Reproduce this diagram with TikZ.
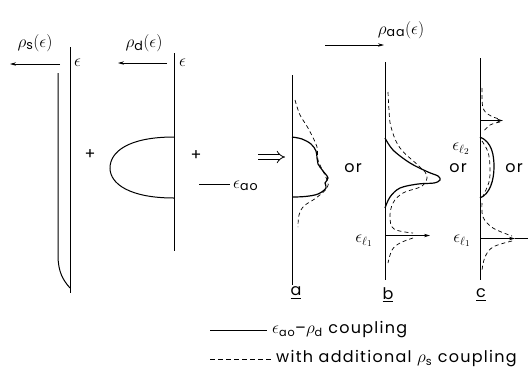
\documentclass[tikz,border=0pt]{standalone}
\usepackage{amsmath}
\usepackage{fontspec}
\setmainfont{Poppins}[LetterSpace=8]
\usetikzlibrary{arrows.meta}
\tikzset{
  axisline/.style={line width=0.95pt},
  solidc/.style={line width=1.2pt},
  dashc/.style={line width=0.7pt, dash pattern=on 4pt off 3pt},
  arr/.style={line width=0.7pt, -{Stealth[length=6pt,width=3.4pt]}},
  lbl/.style={inner sep=0pt},
  mlbl/.style={inner sep=0pt, font=\fontsize{18}{21}\selectfont},
}
\begin{document}
\begin{tikzpicture}[x=1pt,y=-1pt,font=\fontsize{16}{19}\selectfont]
\useasboundingbox (0,0) rectangle (530,376);

% ---------- panel s ----------
\coordinate (sTop) at (70,47);
\coordinate (sBot) at (70,293);
\draw[axisline] (sTop) -- (sBot);
\node[mlbl,anchor=west] (epsS) at (74,63) {$\epsilon$};
\node[mlbl] (rhoS) at (35,43) {$\rho_{\text{s}}(\epsilon)$};
\coordinate (sArrA) at (60,64);
\coordinate (sArrB) at (10,64);
\draw[arr] (sArrA) -- (sArrB);
\draw[line width=1pt] (58,73) -- (58,255) .. controls (58,272) and (63,280) .. (70,288);

% ---------- panel d ----------
\coordinate (dTop) at (174,53);
\coordinate (dBot) at (174,251);
\draw[axisline] (dTop) -- (dBot);
\node[mlbl,anchor=west] (epsD) at (179,63) {$\epsilon$};
\node[mlbl] (rhoD) at (144,43) {$\rho_{\text{d}}(\epsilon)$};
\coordinate (dArrA) at (167,63);
\coordinate (dArrB) at (118,63);
\draw[arr] (dArrA) -- (dArrB);
\draw[line width=1pt] (174,137) .. controls (128,137) and (110,152) .. (110,168)
   .. controls (110,184) and (130,198) .. (174,198);

\node[lbl] (plus1) at (90,155) {+};
\node[lbl] (plus2) at (196,156) {+};

% eps_ao level
\coordinate (aoA) at (199,184);
\coordinate (aoB) at (230,184);
\draw[line width=0.7pt] (aoA) -- (aoB);
\node[mlbl,anchor=west] (epsAO) at (233,186) {$\epsilon_{\text{ao}}$};

% double arrow
\coordinate (implA) at (258,157);
\coordinate (implB) at (285,157);
\draw[line width=0.8pt, double distance=3.6pt, -{Implies[length=5pt]}] (implA) -- (implB);

% ---------- panel a ----------
\coordinate (aTop) at (292,75);
\coordinate (aBot) at (292,285);
\draw[axisline] (aTop) -- (aBot);
\draw[solidc] plot[smooth,tension=0.6] coordinates {(292,137) (302,139) (311,144) (316,151) (317,158) (318,164) (323,171) (328,178) (325,183) (326,188) (318,194) (305,196.5) (292,197)};
\draw[dashc] plot[smooth,tension=0.6] coordinates {(295,100) (300,115) (308,128) (317,147) (318,160) (327,180) (327,188) (316,198) (304,206) (299,215) (298,227)};
\node[lbl] (labA) at (296,293) {\underline{a}};

% ---------- panel b ----------
\coordinate (bTop) at (385,62);
\coordinate (bBot) at (385,280);
\draw[axisline] (bTop) -- (bBot);
\node[mlbl] (rhoAA) at (401,30) {$\rho_{\text{aa}}(\epsilon)$};
\coordinate (bArrA) at (325,45);
\coordinate (bArrB) at (384,45);
\draw[arr] (bArrA) -- (bArrB);
\draw[solidc] plot[smooth,tension=0.55] coordinates {(385,138) (393,150) (410,163) (428,172) (438,176) (440,180) (434,183) (418,184) (400,188) (390,197) (385,208)};
\draw[dashc] plot[smooth,tension=0.6] coordinates {(388,92) (389,110) (391,127) (400,148) (420,167) (427,176) (422,186) (403,193) (393,203) (390,217) (394,229) (413,233)};
\draw[dashc] plot[smooth,tension=0.6] coordinates {(413,238) (400,243) (392,250) (388,263)};
\coordinate (bL1) at (385,235.5);
\coordinate (bL1e) at (430,235.5);
\draw[arr] (bL1) -- (bL1e);
\node[mlbl] (epsL1b) at (364,241) {$\epsilon_{\ell_1}$};
\node[lbl] (labB) at (388,295) {\underline{b}};

% ---------- panel c ----------
\coordinate (cTop) at (480,58);
\coordinate (cBot) at (480,280);
\draw[axisline] (cTop) -- (cBot);
\draw[solidc] (480,137) .. controls (492,142) and (494,155) .. (494,167)
   .. controls (494,180) and (490,194) .. (480,198);
\draw[dashc] plot[smooth,tension=0.6] coordinates {(482,141) (488,152) (490,167) (489,182) (483,196)};
% upper level eps_l2
\draw[dashc] plot[smooth,tension=0.6] coordinates {(482,88) (483,108) (491,116) (500,119)};
\draw[dashc] plot[smooth,tension=0.6] coordinates {(500,122) (490,125) (483,132)};
\coordinate (cL2) at (480,120.5);
\coordinate (cL2e) at (503,120.5);
\draw[arr] (cL2) -- (cL2e);
\node[mlbl] (epsL2) at (461,149) {$\epsilon_{\ell_2}$};
% lower level eps_l1
\draw[dashc] plot[smooth,tension=0.6] coordinates {(482,203) (483,217) (493,228) (512,236)};
\draw[dashc] plot[smooth,tension=0.6] coordinates {(512,241) (493,247) (485,257) (482,270)};
\coordinate (cL1) at (480,238.5);
\coordinate (cL1m) at (515,238.5);
\coordinate (cL1e) at (528,238.5);
\draw[arr] (cL1) -- (cL1m);
\draw[line width=0.7pt] (cL1m) -- (cL1e);
\node[mlbl] (epsL1c) at (462,241) {$\epsilon_{\ell_1}$};
\node[lbl] (labC) at (481,295) {\underline{c}};

% "or" labels
\node[lbl] (or1) at (353,168) {or};
\node[lbl] (or2) at (458,168) {or};
\node[lbl] (or3) at (514,168) {or};

% ---------- legend ----------
\coordinate (legSA) at (210,330);
\coordinate (legSB) at (267,330);
\draw[line width=0.7pt] (legSA) -- (legSB);
\node[lbl,anchor=west] (legS) at (272,330) {$\epsilon_{\text{ao}}$--$\rho_{\text{d}}$ coupling};
\coordinate (legDA) at (210,359);
\coordinate (legDB) at (272,359);
\draw[line width=0.7pt, dash pattern=on 5pt off 3pt] (legDA) -- (legDB);
\node[lbl,anchor=west] (legD) at (276,359) {with additional $\rho_{\text{s}}$ coupling};
\end{tikzpicture}
\end{document}
